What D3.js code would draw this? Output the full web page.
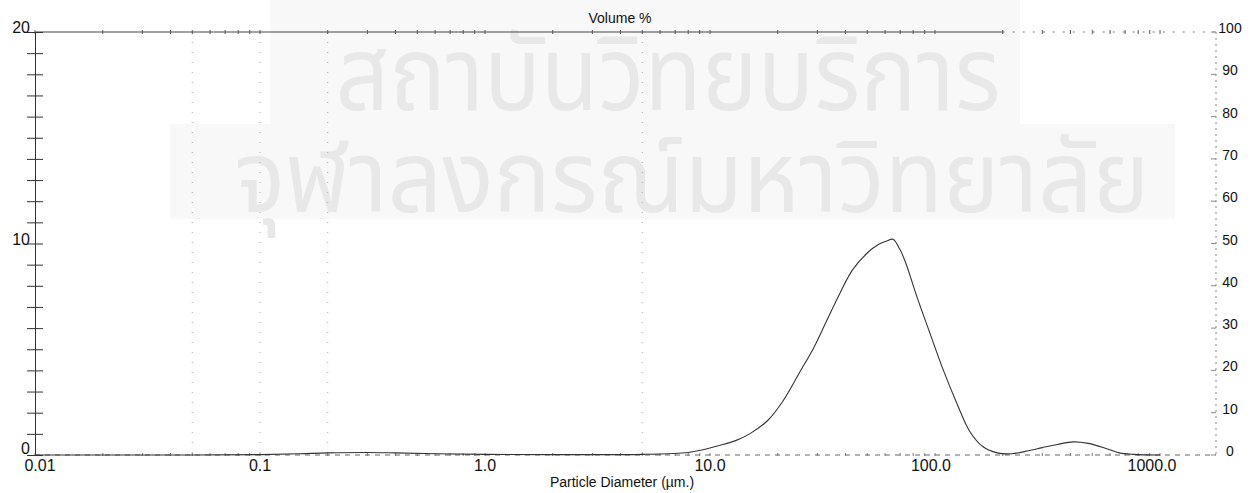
<!DOCTYPE html>
<html>
<head>
<meta charset="utf-8">
<script src="https://cdn.jsdelivr.net/npm/d3@7"></script>
<style>
  html, body { margin: 0; padding: 0; background: #fff; }
  svg { display: block; }
  text { font-family: "Liberation Sans", Arial, sans-serif; fill: #111; }
</style>
</head>
<body>
<svg id="chart" width="1254" height="493"></svg>
<script>
// Particle size distribution (volume %)
const diameters = [0.01, 0.05, 0.1, 0.15, 0.2, 0.3, 0.4, 0.6, 1.0, 2, 5, 8, 9.3, 11, 13, 15, 18, 21, 25, 29,
  33, 38, 43, 50, 56, 61, 65, 70, 74, 83, 95, 109, 125, 143, 163, 189, 220, 260, 300, 350, 410, 480, 580, 660, 760, 1000];
const volumePct = [0, 0, 0.02, 0.06, 0.1, 0.12, 0.1, 0.06, 0.03, 0.02, 0.03, 0.12, 0.25, 0.45, 0.68, 1.0, 1.62, 2.52, 3.9, 5.1,
  6.35, 7.7, 8.75, 9.55, 9.95, 10.12, 10.2, 9.7, 9.1, 7.5, 5.75, 4.0, 2.45, 1.1, 0.4, 0.1, 0.06, 0.2, 0.35, 0.5, 0.62, 0.55, 0.3, 0.1, 0.03, 0];

const xTickValues = [0.01, 0.1, 1, 10, 100, 1000];
const xTickLabels = ["0.01", "0.1", "1.0", "10.0", "100.0", "1000.0"];
const leftTickLabels = [0, 10, 20];
const rightTickValues = [0, 10, 20, 30, 40, 50, 60, 70, 80, 90, 100];
const gridDiameters = [0.05, 0.1, 0.2, 5];
const watermarkLines = ["สถาบันวิทยบริการ", "จุฬาลงกรณ์มหาวิทยาลัย"];

const svg = d3.select("#chart");
const plotLeft = 35, plotRight = 1216, plotTop = 32, plotBottom = 455;

const x = d3.scaleLog().domain([0.01, 1000]).range([plotLeft, 1160]);
const y = d3.scaleLinear().domain([0, 20]).range([plotBottom, plotTop]);
const yR = d3.scaleLinear().domain([0, 100]).range([plotBottom, plotTop]);

// faint watermark
const wm = svg.append("g");
wm.append("rect").attr("x", 270).attr("y", 0).attr("width", 750).attr("height", 124).attr("fill", "#f8f8f8");
wm.append("rect").attr("x", 170).attr("y", 124).attr("width", 1005).attr("height", 95).attr("fill", "#f8f8f8");
wm.append("text").attr("x", 668).attr("y", 110).attr("text-anchor", "middle")
  .style("font-family", "'Noto Sans Thai', 'Noto Sans', 'DejaVu Sans', sans-serif")
  .style("font-size", "104px").style("fill", "#e8e8e8")
  .attr("textLength", 665).attr("lengthAdjust", "spacingAndGlyphs").text(watermarkLines[0]);
wm.append("text").attr("x", 692).attr("y", 212).attr("text-anchor", "middle")
  .style("font-family", "'Noto Sans Thai', 'Noto Sans', 'DejaVu Sans', sans-serif")
  .style("font-size", "100px").style("fill", "#e8e8e8")
  .attr("textLength", 915).attr("lengthAdjust", "spacingAndGlyphs").text(watermarkLines[1]);

// faint dotted grid
svg.append("g").selectAll("line").data(gridDiameters).join("line")
  .attr("x1", d => x(d)).attr("x2", d => x(d)).attr("y1", plotTop).attr("y2", plotBottom)
  .attr("stroke", "#aaa").attr("stroke-width", 1).attr("stroke-dasharray", "1,9");

// frame: top border, dashed baseline, right dotted axis
svg.append("line").attr("x1", plotLeft).attr("x2", x(200)).attr("y1", plotTop).attr("y2", plotTop)
  .attr("stroke", "#444").attr("stroke-width", 1.2);
svg.append("line").attr("x1", x(200)).attr("x2", plotRight).attr("y1", plotTop).attr("y2", plotTop)
  .attr("stroke", "#777").attr("stroke-dasharray", "2,8");
svg.append("line").attr("x1", plotLeft).attr("x2", plotRight).attr("y1", plotBottom).attr("y2", plotBottom)
  .attr("stroke", "#666").attr("stroke-dasharray", "5,5");
svg.append("line").attr("x1", plotRight).attr("x2", plotRight).attr("y1", plotTop).attr("y2", plotBottom)
  .attr("stroke", "#888").attr("stroke-dasharray", "2,4");

// minor ticks along top and bottom
const minor = [];
for (let e = -2; e < 3; e++) for (let m = 1; m < 10; m++) minor.push(m * Math.pow(10, e));
minor.push(1000);
svg.append("g").selectAll("line").data(minor).join("line")
  .attr("x1", d => x(d)).attr("x2", d => x(d)).attr("y1", plotTop - 2).attr("y2", plotTop + 2)
  .attr("stroke", "#555");
svg.append("g").selectAll("line").data(minor).join("line")
  .attr("x1", d => x(d)).attr("x2", d => x(d)).attr("y1", plotBottom - 2).attr("y2", plotBottom + 1)
  .attr("stroke", "#777");

// left axis with cross ticks
const yAxis = d3.axisLeft(y).tickValues(d3.range(0, 21)).tickSize(8).tickFormat("");
const ga = svg.append("g").attr("transform", `translate(${plotLeft},0)`).call(yAxis);
ga.select(".domain").attr("stroke", "#333");
ga.selectAll(".tick line").attr("x2", 8).attr("x1", -8).attr("stroke", "#333");
svg.append("g").selectAll("text").data(leftTickLabels).join("text")
  .attr("x", 30).attr("y", d => y(d) + (d === 0 ? -1 : 1)).attr("text-anchor", "end")
  .style("font-size", "16px").text(d => d);

// right axis labels
svg.append("g").selectAll("line").data(rightTickValues).join("line")
  .attr("x1", plotRight - 5).attr("x2", plotRight).attr("y1", d => yR(d)).attr("y2", d => yR(d))
  .attr("stroke", "#888");
svg.append("g").selectAll("text").data(rightTickValues).join("text")
  .attr("x", 1230).attr("y", d => yR(d) + 1).attr("text-anchor", "middle")
  .style("font-size", "14px").text(d => d);

// x tick labels
svg.append("g").selectAll("text").data(xTickValues).join("text")
  .attr("x", (d, i) => x(d) + (i === 0 ? 5 : 0) - (i === 4 ? 4 : 0) - (i === 5 ? 8 : 0))
  .attr("y", 471).attr("text-anchor", "middle")
  .style("font-size", "16px").text((d, i) => xTickLabels[i]);

// distribution curve
const line = d3.line().x((d, i) => x(diameters[i])).y(d => y(Math.max(0, d)))
  .curve(d3.curveCatmullRom.alpha(0.5));
svg.append("path").datum(volumePct).attr("d", line)
  .attr("fill", "none").attr("stroke", "#333").attr("stroke-width", 1.1);

// titles
svg.append("text").attr("x", 620).attr("y", 23).attr("text-anchor", "middle")
  .style("font-size", "14px").text("Volume %");
svg.append("text").attr("x", 622).attr("y", 487).attr("text-anchor", "middle")
  .style("font-size", "14px").text("Particle Diameter (µm.)");
</script>
</body>
</html>
